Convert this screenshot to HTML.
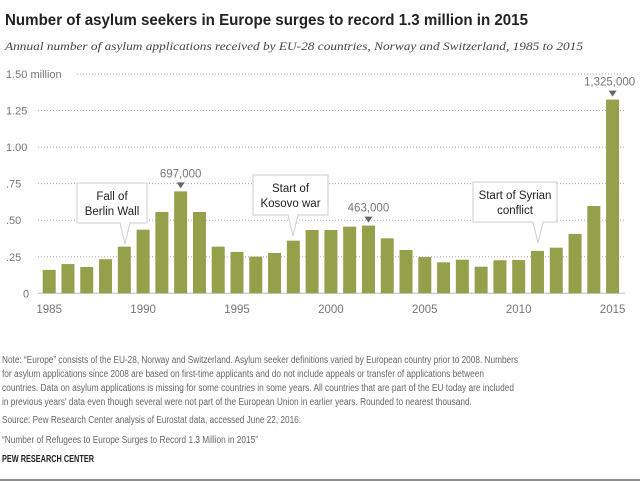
<!DOCTYPE html>
<html><head><meta charset="utf-8"><style>
body{margin:0;background:#fff;}
svg{display:block;font-family:"Liberation Sans",sans-serif;}
</style></head><body>
<svg id="chart" width="640" height="482" viewBox="0 0 640 482">
<text x="5" y="25" font-size="15.5" font-weight="bold" fill="#222" textLength="523" lengthAdjust="spacingAndGlyphs">Number of asylum seekers in Europe surges to record 1.3 million in 2015</text>
<text x="5" y="50" font-size="12" font-style="italic" font-family="Liberation Serif,serif" fill="#444" textLength="578" lengthAdjust="spacingAndGlyphs">Annual number of asylum applications received by EU-28 countries, Norway and Switzerland, 1985 to 2015</text>
<g id="grid"></g><g id="bars"></g><g id="xlabels"></g><g id="ann"></g>
<g font-size="10" fill="#666">
<text x="2" y="363" textLength="516" lengthAdjust="spacingAndGlyphs">Note: “Europe” consists of the EU-28, Norway and Switzerland. Asylum seeker definitions varied by European country prior to 2008. Numbers</text>
<text x="2" y="377" textLength="482" lengthAdjust="spacingAndGlyphs">for asylum applications since 2008 are based on first-time applicants and do not include appeals or transfer of applications between</text>
<text x="2" y="391" textLength="512" lengthAdjust="spacingAndGlyphs">countries.  Data on asylum applications is missing for some countries in some years. All countries that are part of the EU today are included</text>
<text x="2" y="405" textLength="470" lengthAdjust="spacingAndGlyphs">in previous years’ data even though several were not part of the European Union in earlier years. Rounded to nearest thousand.</text>
<text x="2" y="423" textLength="299" lengthAdjust="spacingAndGlyphs">Source:  Pew Research Center analysis of Eurostat data, accessed June 22, 2016.</text>
<text x="2" y="443" textLength="256" lengthAdjust="spacingAndGlyphs">“Number of Refugees to Europe Surges to Record 1.3 Million in 2015”</text>
<text x="2" y="462" font-weight="bold" fill="#222" textLength="92" lengthAdjust="spacingAndGlyphs">PEW RESEARCH CENTER</text>
</g>
<line x1="0" y1="480" x2="640" y2="480" stroke="#222" stroke-width="1"/>
</svg>
<script>
const years=[1985,1986,1987,1988,1989,1990,1991,1992,1993,1994,1995,1996,1997,1998,1999,2000,2001,2002,2003,2004,2005,2006,2007,2008,2009,2010,2011,2012,2013,2014,2015];
const values=[0.160,0.200,0.180,0.233,0.319,0.435,0.556,0.697,0.556,0.319,0.283,0.251,0.276,0.360,0.433,0.433,0.456,0.463,0.376,0.296,0.248,0.212,0.230,0.182,0.226,0.228,0.290,0.312,0.406,0.597,1.325];
const yTicks=[0,0.25,0.5,0.75,1.0,1.25,1.5];
const yTickLabels=["0",".25",".50",".75","1.00","1.25","1.50 million"];
const xTickYears=[1985,1990,1995,2000,2005,2010,2015];
const peakLabels=[[1992,"697,000"],[2002,"463,000"],[2015,"1,325,000"]];
const NS="http://www.w3.org/2000/svg";
const y0=293.3,pxPer=146.2,x0=42.7,step=18.78,bw=13;
const yS=v=>y0-v*pxPer;
const xS=yr=>x0+(yr-years[0])*step;
function mk(t,a,p){const e=document.createElementNS(NS,t);for(const k in a)e.setAttribute(k,a[k]);p.appendChild(e);return e;}
const grid=document.getElementById('grid');
yTicks.forEach((t,i)=>{
 const y=yS(t);
 const g=mk('g',{},grid);
 
 
 const start=i===6?77:38;
 if(i>0)mk('line',{x1:start,x2:625,y1:y,y2:y,stroke:'#aaa','stroke-dasharray':'1,2','stroke-width':1},g);
 else mk('line',{x1:38,x2:625,y1:y,y2:y,stroke:'#bbb','stroke-width':1},g);
 const tx=mk('text',{x:i===6?6:(i===0?23:6),y:y+4,'font-size':11,fill:'#777'},g);
 tx.textContent=yTickLabels[i];
});
const bars=document.getElementById('bars');
years.forEach((yr,i)=>{
 const r=mk('rect',{x:xS(yr),y:yS(values[i]),width:bw,height:y0-yS(values[i]),fill:'#95a04a'},bars);
 
 
});
const xl=document.getElementById('xlabels');
xTickYears.forEach(yr=>{
 const t=mk('text',{x:xS(yr)+bw/2,y:313,'font-size':11.5,fill:'#777','text-anchor':'middle'},xl);
 
 
 t.textContent=yr;
});
const ann=document.getElementById('ann');
peakLabels.forEach(([yr,lab])=>{
 const i=years.indexOf(yr);const cx=xS(yr)+bw/2;const top=yS(values[i]);
 const g=mk('g',{},ann);
 
 
 mk('path',{d:`M${cx-4},${top-9} L${cx+4},${top-9} L${cx},${top-3} Z`,fill:'#666'},g);
 const t=mk('text',{x:yr===2015?cx-3:cx,y:top-14,'font-size':11.5,fill:'#777','text-anchor':'middle'},g);
 t.textContent=lab;
});
function callout(name,x,y,w,h,px,py,l1,l2){
 const g=mk('g',{},ann);
 
 
 mk('path',{d:`M${x},${y} H${x+w} V${y+h} H${px+5} L${px},${py} L${px-5},${y+h} H${x} Z`,fill:'#fff',stroke:'#ccc'},g);
 const cx=x+w/2;
 mk('text',{x:cx,y:y+17,'font-size':11.5,fill:'#222','text-anchor':'middle'},g).textContent=l1;
 mk('text',{x:cx,y:y+32,'font-size':11.5,fill:'#222','text-anchor':'middle'},g).textContent=l2;
}
callout('callout-berlin-wall',77,183,70,40,125,244,'Fall of','Berlin Wall');
callout('callout-kosovo-war',253,175,75,40,293,236,'Start of','Kosovo war');
callout('callout-syrian-conflict',473,182,84,40,538,243,'Start of Syrian','conflict');
</script>
</body></html>
